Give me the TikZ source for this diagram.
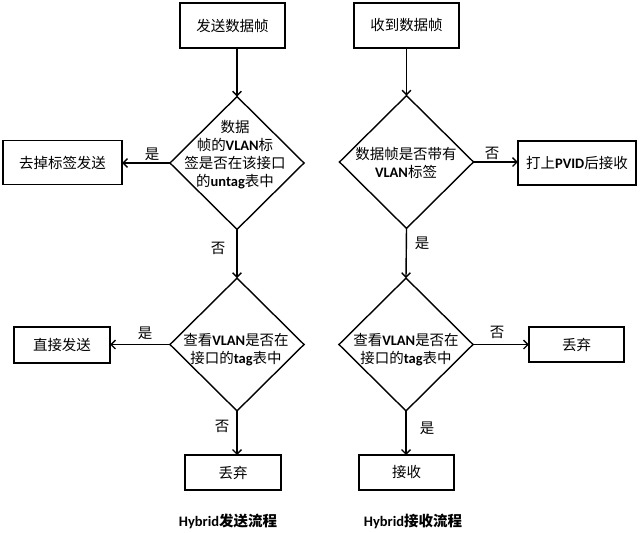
\documentclass[tikz,border=0pt]{standalone}
\usepackage{fontspec}
\setmainfont{Noto Sans CJK SC}
\newfontfamily\latfont{Carlito}
\usetikzlibrary{arrows.meta,shapes.geometric}
\newcommand{\en}[1]{{\latfont\bfseries #1}}
\tikzset{
  flowbox/.style={draw,line width=1pt,inner sep=0pt,outer sep=0pt},
  flowdia/.style={draw,diamond,line width=1pt,inner sep=0pt,outer sep=0pt,
    minimum width=3.35cm,minimum height=3.32cm},
  flowarr/.style={line width=1pt,-{Straight Barb[length=1.1mm,width=2.2mm]}},
  every node/.append style={font=\fontsize{10.3}{12.8}\selectfont}
}

\begin{document}
\begin{tikzpicture}[x=0.025cm,y=-0.025cm]
  \useasboundingbox (0,0) rectangle (640,533);
  % Hybrid send
  \node[flowbox,minimum width=2.625cm,minimum height=1.125cm] (send) at (232.5,25.5) {发送数据帧};
  \node[flowdia] (qUntag) at (237,163) {};
  \node[align=center] (qUntagTxt) at (235,155)
    {数据\\帧的\en{VLAN}标\\签是否在该接口\\的\en{untag}表中};
  \node[flowbox,minimum width=2.975cm,minimum height=1.1cm] (strip) at (62.5,162.5) {去掉标签发送};
  \node[flowdia] (qTag) at (237,344.5) {};
  \node[align=center] (qTagTxt) at (236,350) {查看\en{VLAN}是否在\\接口的\en{tag}表中};
  \node[flowbox,minimum width=2.4cm,minimum height=0.9cm] (direct) at (62,345) {直接发送};
  \node[flowbox,minimum width=2.4cm,minimum height=0.875cm] (dropA) at (233,472.5) {丢弃};
  \draw[flowarr] (send.south -| qUntag.north) -- (qUntag.north);
  \draw[flowarr] (qUntag.west) -- (qUntag.west -| strip.east);
  \draw[flowarr] (qUntag.south) -- (qTag.north);
  \draw[flowarr] (qTag.west) -- (qTag.west -| direct.east);
  \draw[flowarr] (qTag.south) -- (qTag.south |- dropA.north);
  \node (yesA) at (152,154) {是};
  \node (noA) at (218,248) {否};
  \node (yesB) at (145,333) {是};
  \node (noB) at (222,426) {否};
  \node[font=\fontsize{10.3}{12.8}\selectfont\bfseries] (capSend) at (228,521) {\en{Hybrid}发送流程};
  % Hybrid receive
  \node[flowbox,minimum width=2.625cm,minimum height=1.125cm] (recvIn) at (406.5,25.5) {收到数据帧};
  \node[flowdia] (qVlan) at (406.5,162) {};
  \node[align=center] (qVlanTxt) at (406,163) {数据帧是否带有\\\en{VLAN}标签};
  \node[flowbox,minimum width=2.95cm,minimum height=1.1cm] (pvid) at (577,163) {打上\en{PVID}后接收};
  \node[flowdia] (qTagR) at (406,344.5) {};
  \node[align=center] (qTagRTxt) at (406,350) {查看\en{VLAN}是否在\\接口的\en{tag}表中};
  \node[flowbox,minimum width=2.375cm,minimum height=0.875cm] (dropB) at (576.5,344.5) {丢弃};
  \node[flowbox,minimum width=2.375cm,minimum height=0.875cm] (recv) at (406.5,472.5) {接收};
  \draw[flowarr] (recvIn.south -| qVlan.north) -- (qVlan.north);
  \draw[flowarr] (qVlan.east) -- (qVlan.east -| pvid.west);
  \draw[flowarr] (qVlan.south) -- (qTagR.north);
  \draw[flowarr] (qTagR.east) -- (qTagR.east -| dropB.west);
  \draw[flowarr] (qTagR.south) -- (qTagR.south |- recv.north);
  \node (noC) at (492,153) {否};
  \node (yesC) at (422,243) {是};
  \node (noD) at (497,332) {否};
  \node (yesD) at (427,428) {是};
  \node[font=\fontsize{10.3}{12.8}\selectfont\bfseries] (capRecv) at (413,521) {\en{Hybrid}接收流程};
\end{tikzpicture}
\end{document}
